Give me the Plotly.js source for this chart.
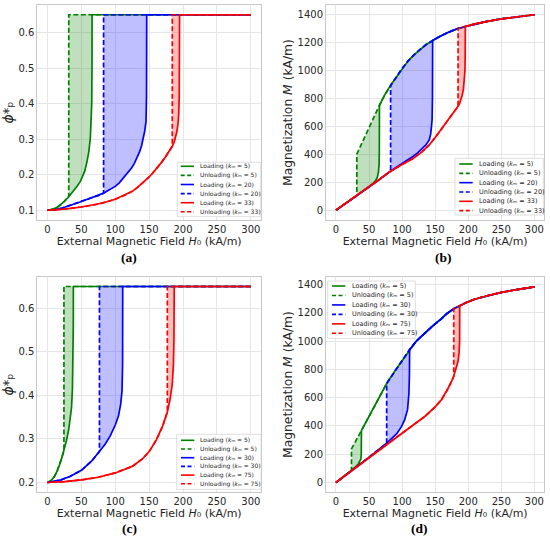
<!DOCTYPE html>
<html><head><meta charset="utf-8">
<script src="https://cdn.plot.ly/plotly-3.0.1.min.js"></script>
<style>body{margin:0;padding:0;background:#fff}#chart{width:550px;height:542px}</style>
</head><body><div id="chart"></div>
<script>
// ---------------- DATA ----------------
const xTicks = [0, 50, 100, 150, 200, 250, 300];
const xTickText = ['0', '50', '100', '150', '200', '250', '300'];
const phiTicksA = [0.1, 0.2, 0.3, 0.4, 0.5, 0.6];
const phiTickTextA = ['0.1', '0.2', '0.3', '0.4', '0.5', '0.6'];
const phiTicksC = [0.2, 0.3, 0.4, 0.5, 0.6];
const phiTickTextC = ['0.2', '0.3', '0.4', '0.5', '0.6'];
const mTicks = [0, 200, 400, 600, 800, 1000, 1200, 1400];
const mTickText = ['0', '200', '400', '600', '800', '1000', '1200', '1400'];

const kmA = ['5', '20', '33'];
const kmC = ['5', '30', '75'];

// Panel (a): phi*_p, km = 5, 20, 33
const upperA_H = [0, 31.4, 65.8, 82.8, 146.4, 184.1, 194.9, 300];
const upperA_Y = [0.65, 0.65, 0.65, 0.65, 0.65, 0.65, 0.65, 0.65];
const a5_H = [0, 5, 10, 15, 20, 25, 31.4, 36, 40, 44, 48.5, 52, 55, 58.3, 61, 63.2, 64.6, 65.3, 65.7];
const a5_Y = [0.100, 0.101, 0.104, 0.109, 0.116, 0.125, 0.138, 0.148, 0.157, 0.168, 0.181, 0.195, 0.210, 0.237, 0.265, 0.303, 0.350, 0.400, 0.500];
const a20_H = [0, 10, 20, 33.8, 45, 55, 65, 75, 82.8, 90, 100, 106, 112, 118, 124, 128, 131.7, 136, 139, 141.5, 143.5, 145.4, 146.1];
const a20_Y = [0.100, 0.101, 0.105, 0.115, 0.121, 0.128, 0.135, 0.141, 0.148, 0.156, 0.167, 0.177, 0.190, 0.204, 0.219, 0.231, 0.246, 0.265, 0.283, 0.303, 0.323, 0.350, 0.420];
const a33_H = [0, 25, 50, 75, 82.8, 100, 115, 125, 132, 140, 148, 155, 162, 168, 174, 179, 184.1, 187, 189, 191, 192.5, 193.6, 194.4, 194.8];
const a33_Y = [0.100, 0.103, 0.109, 0.117, 0.121, 0.131, 0.143, 0.153, 0.163, 0.176, 0.190, 0.204, 0.219, 0.234, 0.250, 0.264, 0.280, 0.292, 0.305, 0.322, 0.342, 0.370, 0.420, 0.500];
const jumpA = [65.8, 146.4, 194.9];
const dropA = [31.4, 82.8, 184.1];

// Panel (b): M (kA/m), km = 5, 20, 33
const upperB_H = [31.6, 40, 50, 60, 65.8, 74, 82.7, 92, 100, 109.3, 118, 127, 136, 146.2, 156, 166, 175, 184.6, 195.6, 210, 230, 250, 275, 300];
const upperB_Y = [402, 488, 588, 690, 752, 828, 895, 958, 1015, 1070, 1113, 1150, 1185, 1216, 1243, 1266, 1285, 1302, 1316, 1335, 1355, 1370, 1386, 1400];
const b5_H = [0, 10, 20, 31.6, 40, 47, 53, 57, 60, 62.5, 64.2, 65.2, 65.6];
const b5_Y = [0, 33, 66, 104, 134, 158, 180, 196, 212, 235, 270, 320, 420];
const b20_H = [0, 20, 40, 60, 82.7, 95, 105, 116.4, 124, 131.4, 136, 141.2, 143.2, 144.4, 145.4, 145.9];
const b20_Y = [0, 66, 133, 200, 281, 318, 350, 385, 412, 445, 468, 505, 545, 597, 650, 800];
const b33_H = [0, 20, 40, 60, 82.7, 100, 116, 130, 140, 149.5, 160, 170.6, 178, 182, 184.6, 187, 189, 190.6, 192.8, 194.1, 195, 195.4];
const b33_Y = [0, 66, 133, 199, 279, 328, 368, 418, 462, 518, 584, 652, 700, 727, 745, 766, 790, 818, 868, 931, 1000, 1100];
const jumpB = [65.8, 146.2, 195.6];
const dropB = [31.6, 82.7, 184.6];

// Panel (c): phi*_p, km = 5, 30, 75
const upperC_H = [0, 24.3, 38.2, 76.7, 111, 176.8, 187, 300];
const upperC_Y = [0.65, 0.65, 0.65, 0.65, 0.65, 0.65, 0.65, 0.65];
const c5_H = [0, 5, 10, 14.2, 20, 24.3, 28, 31.4, 34, 35.5, 36.8, 37.7, 38.1];
const c5_Y = [0.200, 0.204, 0.213, 0.226, 0.250, 0.272, 0.296, 0.322, 0.350, 0.372, 0.414, 0.480, 0.560];
const c30_H = [0, 20, 33.8, 50, 65, 76.7, 85, 92.6, 100, 104.8, 108, 110, 110.8];
const c30_Y = [0.200, 0.206, 0.2145, 0.228, 0.249, 0.271, 0.288, 0.307, 0.332, 0.353, 0.380, 0.410, 0.470];
const c75_H = [0, 25, 50, 75, 100, 125, 140, 150, 160.6, 170, 176.8, 181, 184, 185.8, 186.6];
const c75_Y = [0.200, 0.202, 0.206, 0.212, 0.222, 0.237, 0.254, 0.271, 0.298, 0.330, 0.362, 0.392, 0.425, 0.470, 0.530];
const jumpC = [38.2, 111, 187];
const dropC = [24.3, 76.7, 176.8];

// Panel (d): M (kA/m), km = 5, 30, 75
const upperD_H = [23.5, 30, 38.6, 50, 60, 76.7, 90, 100, 111.4, 122, 134.4, 147, 159.5, 168, 178.1, 187.1, 198, 209.7, 230, 250, 275, 300];
const upperD_Y = [238, 294, 368, 468, 553, 700, 795, 862, 940, 1002, 1058, 1110, 1157, 1195, 1228, 1250, 1275, 1296, 1322, 1344, 1365, 1383];
const d5_H = [0, 12, 23.5, 30, 34, 36.5, 37.8, 38.3, 38.5];
const d5_Y = [0, 43, 86, 112, 133, 150, 168, 200, 260];
const d30_H = [0, 25, 50, 76.7, 85, 92, 99.3, 104, 108.3, 110.4, 111.1];
const d30_Y = [0, 88, 178, 278, 312, 345, 397, 445, 515, 633, 760];
const d75_H = [0, 25, 50, 76.7, 100, 109.3, 125, 134.4, 150, 159.5, 168, 173, 178.1, 182, 184.6, 186.2, 187];
const d75_Y = [0, 88, 177, 268, 350, 385, 435, 467, 535, 585, 650, 695, 751, 810, 857, 920, 1000];
const jumpD = [38.6, 111.4, 187.1];
const dropD = [23.5, 76.7, 178.1];

// ---------------- BUILD ----------------
const W = 550, H = 542;
const colors = ['#008000', '#0000ff', '#ff0000'];
const fills = ['rgba(0,128,0,0.25)', 'rgba(0,0,255,0.25)', 'rgba(255,0,0,0.25)'];
const traces = [];
const shapes = [];
const annotations = [];

function pick(hs, ys, pred) {
  const x = [], y = [];
  hs.forEach((h, i) => { if (pred(h)) { x.push(h); y.push(ys[i]); } });
  return { x, y };
}

function panel(xa, ya, upH, upY, loads, jumps, drops) {
  const fillTr = [], lineTr = [];
  loads.forEach((ld, i) => {
    const jh = jumps[i], dh = drops[i];
    const upAfter = pick(upH, upY, h => h >= jh);
    const lf = pick(ld[0], ld[1], h => h >= dh);
    const uf = pick(upH, upY, h => h >= dh && h <= jh);
    fillTr.push({
      x: lf.x.concat(uf.x.slice().reverse()),
      y: lf.y.concat(uf.y.slice().reverse()),
      xaxis: xa, yaxis: ya, type: 'scatter', mode: 'lines', fill: 'toself',
      fillcolor: fills[i], line: { width: 0 }, hoverinfo: 'skip', showlegend: false
    });
    lineTr.push({
      x: ld[0].concat(upAfter.x), y: ld[1].concat(upAfter.y),
      xaxis: xa, yaxis: ya, type: 'scatter', mode: 'lines',
      line: { color: colors[i], width: 1.7 }, hoverinfo: 'skip', showlegend: false
    });
    const uu = pick(upH, upY, h => h >= dh);
    const ll = pick(ld[0], ld[1], h => h <= dh);
    lineTr.push({
      x: uu.x.slice().reverse().concat(ll.x.slice().reverse()),
      y: uu.y.slice().reverse().concat(ll.y.slice().reverse()),
      xaxis: xa, yaxis: ya, type: 'scatter', mode: 'lines',
      line: { color: colors[i], width: 1.7, dash: '5px,2.5px' }, hoverinfo: 'skip', showlegend: false
    });
  });
  traces.push(...fillTr, ...lineTr);
}

panel('x', 'y', upperA_H, upperA_Y, [[a5_H, a5_Y], [a20_H, a20_Y], [a33_H, a33_Y]], jumpA, dropA);
panel('x2', 'y2', upperB_H, upperB_Y, [[b5_H, b5_Y], [b20_H, b20_Y], [b33_H, b33_Y]], jumpB, dropB);
panel('x3', 'y3', upperC_H, upperC_Y, [[c5_H, c5_Y], [c30_H, c30_Y], [c75_H, c75_Y]], jumpC, dropC);
panel('x4', 'y4', upperD_H, upperD_Y, [[d5_H, d5_Y], [d30_H, d30_Y], [d75_H, d75_Y]], jumpD, dropD);

// compact legends (one per panel)
function legend(L, T, R, B, row0, dy, sL, sR, tL, fs, kms) {
  shapes.push({ type: 'rect', xref: 'paper', yref: 'paper', x0: L / W, x1: R / W, y0: 1 - B / H, y1: 1 - T / H,
    line: { color: '#d6d6d6', width: 0.8 }, fillcolor: 'rgba(255,255,255,0.85)', layer: 'above' });
  for (let i = 0; i < 6; i++) {
    const s = Math.floor(i / 2), dashed = i % 2 === 1;
    const yc = row0 + i * dy;
    shapes.push({ type: 'line', xref: 'paper', yref: 'paper', x0: sL / W, x1: sR / W, y0: 1 - yc / H, y1: 1 - yc / H,
      line: { color: colors[s], width: 1.6, dash: dashed ? '4px,2.5px' : 'solid' }, layer: 'above' });
    annotations.push({ xref: 'paper', yref: 'paper', x: tL / W, y: 1 - yc / H, xanchor: 'left', yanchor: 'middle',
      text: (dashed ? 'Unloading' : 'Loading') + ' (<i>k</i>ₘ = ' + kms[s] + ')',
      showarrow: false, font: { family: 'DejaVu Sans', size: fs, color: '#262626' } });
  }
}
legend(177.3, 162.3, 260.7, 216.7, 166.3, 9.1, 180.7, 194, 197.5, 6, kmA);
legend(455, 158.3, 543.3, 215, 164, 9.33, 459.3, 472.7, 476.5, 6.5, kmA);
legend(176.7, 434.3, 261, 489.3, 440.3, 8.7, 181, 194.3, 197.5, 6, kmC);
legend(327.7, 281, 415.3, 338.3, 286, 9.46, 332, 345.3, 349.5, 6.5, kmC);

// panel labels
[['(a)', 129, 257], ['(b)', 443, 257], ['(c)', 129, 528], ['(d)', 419, 528]].forEach(p => {
  annotations.push({ xref: 'paper', yref: 'paper', x: p[1] / W, y: 1 - p[2] / H, xanchor: 'center', yanchor: 'middle',
    text: '<b>' + p[0] + '</b>', showarrow: false, font: { family: 'Liberation Serif', size: 13.5, color: '#000' } });
});

const tickFont = { family: 'DejaVu Sans', size: 10, color: '#262626' };
const titleFont = { family: 'DejaVu Sans', size: 11, color: '#262626' };
const xTitle = 'External Magnetic Field <i>H</i>₀ (kA/m)';
function xAxis(dom, anchor) {
  return { domain: dom, anchor: anchor, range: [-15, 315], tickmode: 'array', tickvals: xTicks, ticktext: xTickText,
    showgrid: true, gridcolor: '#e6e6e6', gridwidth: 0.8, zeroline: false, showline: true, mirror: true,
    linecolor: '#c8c8c8', linewidth: 1, ticks: '', tickfont: tickFont,
    title: { text: xTitle, font: titleFont, standoff: 3 } };
}
function yAxis(dom, anchor, rng, tv, tt, title, fs, so) {
  return { domain: dom, anchor: anchor, range: rng, tickmode: 'array', tickvals: tv, ticktext: tt,
    showgrid: true, gridcolor: '#e6e6e6', gridwidth: 0.8, zeroline: false, showline: true, mirror: true,
    linecolor: '#c8c8c8', linewidth: 1, ticks: '', tickfont: tickFont,
    title: { text: title, font: { family: 'DejaVu Sans', size: fs, color: '#262626' }, standoff: so } };
}
const xL = [37.3 / W, 261 / W], xR = [326 / W, 544.3 / W];
const yT = [1 - 220 / H, 1 - 5 / H], yB = [1 - 492.3 / H, 1 - 276.7 / H];
const phiTitle = '<i>ϕ</i>*ₚ';
const mTitle = 'Magnetization <i>M</i> (kA/m)';

const layout = {
  width: W, height: H, margin: { l: 0, r: 0, t: 0, b: 0 },
  paper_bgcolor: '#ffffff', plot_bgcolor: '#ffffff', showlegend: false,
  xaxis: xAxis(xL, 'y'), yaxis: yAxis(yT, 'x', [0.0725, 0.6775], phiTicksA, phiTickTextA, phiTitle, 14, 3),
  xaxis2: xAxis(xR, 'y2'), yaxis2: yAxis(yT, 'x2', [-70, 1470], mTicks, mTickText, mTitle, 12.3, 2),
  xaxis3: xAxis(xL, 'y3'), yaxis3: yAxis(yB, 'x3', [0.1775, 0.6725], phiTicksC, phiTickTextC, phiTitle, 14, 3),
  xaxis4: xAxis(xR, 'y4'), yaxis4: yAxis(yB, 'x4', [-69, 1455], mTicks, mTickText, mTitle, 12.3, 2),
  shapes: shapes, annotations: annotations
};
Plotly.newPlot('chart', traces, layout, { displayModeBar: false });
</script></body></html>
